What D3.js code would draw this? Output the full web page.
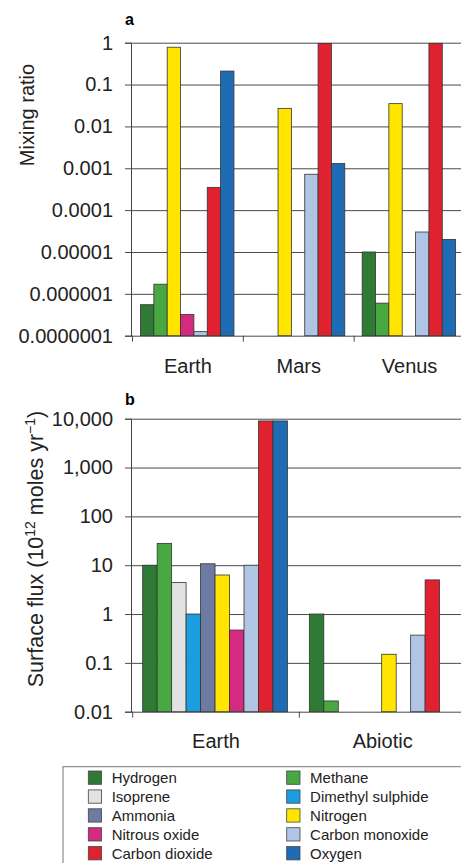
<!DOCTYPE html>
<html>
<head>
<meta charset="utf-8">
<script src="https://cdn.jsdelivr.net/npm/d3@7"></script>
<style>
  body { margin: 0; background: #fff; }
  svg { display: block; font-family: "Liberation Sans", Arial, sans-serif; }
</style>
</head>
<body>
<svg id="chart" width="461" height="863"></svg>
<script>
// gases, in the order used by panel b and the legend
const gases = ["Hydrogen", "Methane", "Isoprene", "Dimethyl sulphide", "Ammonia",
  "Nitrogen", "Nitrous oxide", "Carbon monoxide", "Carbon dioxide", "Oxygen"];
const gasColors = ["#2f7b35", "#48a942", "#e2e2e2", "#1b9ee0", "#6d7ba2",
  "#ffe500", "#d42a80", "#b0c4e4", "#df2130", "#1e6db4"];

// panel a: mixing ratios
const planets = ["Earth", "Mars", "Venus"];
const gasesA = ["Hydrogen", "Methane", "Nitrogen", "Nitrous oxide", "Carbon monoxide", "Carbon dioxide", "Oxygen"];
const mixEarth = [5.5e-7, 1.7e-6, 0.78, 3.2e-7, 1.25e-7, 3.5e-4, 0.21];
const mixMars = [null, null, 0.027, null, 7.2e-4, 0.96, 1.3e-3];
const mixVenus = [1e-5, 6e-7, 0.035, null, 3e-5, 0.965, 2e-5];
const ticksA = [1, 0.1, 0.01, 0.001, 0.0001, 0.00001, 0.000001, 0.0000001];
const tickLabelsA = ["1", "0.1", "0.01", "0.001", "0.0001", "0.00001", "0.000001", "0.0000001"];

// panel b: surface fluxes (10^12 moles per year)
const sources = ["Earth", "Abiotic"];
const fluxEarth = [10, 28, 4.4, 1.0, 10.7, 6.3, 0.47, 10, 9000, 9000];
const fluxAbiotic = [1, 0.0166, null, null, null, 0.15, null, 0.37, 5, null];
const ticksB = [10000, 1000, 100, 10, 1, 0.1, 0.01];
const tickLabelsB = ["10,000", "1,000", "100", "10", "1", "0.1", "0.01"];

const colorOf = d3.scaleOrdinal(gases, gasColors);
const svg = d3.select("#chart");
const axisX = 131;
const rightEdge = 461;

function drawPanel(opts) {
  const g = svg.append("g");
  const y = d3.scaleLog().domain(opts.domain).range([opts.bottom, opts.top]);
  const x = d3.scaleBand().domain(opts.groups).range(opts.xRange);
  const inner = d3.scaleBand().domain(opts.keys).range(opts.innerRange);

  // gridlines
  g.append("g")
    .attr("transform", `translate(${axisX},0)`)
    .call(d3.axisLeft(y).tickValues(opts.ticks).tickSize(-(rightEdge - axisX)).tickFormat(""))
    .call(s => s.select(".domain").remove())
    .call(s => s.selectAll(".tick line").attr("stroke", "#4a4a4a").attr("stroke-width", 1));

  // y axis with labels
  g.append("g")
    .attr("transform", `translate(${axisX},0)`)
    .call(d3.axisLeft(y).tickValues(opts.ticks).tickSize(6).tickPadding(12)
      .tickFormat((d, i) => opts.tickLabels[i]))
    .call(s => s.select(".domain").attr("stroke", "#444"))
    .call(s => s.selectAll(".tick line").attr("stroke", "#4a4a4a"))
    .call(s => s.selectAll(".tick text").attr("font-size", 20).attr("fill", "#222")
      .attr("font-family", "Liberation Sans, Arial, sans-serif"));

  // bottom ticks at group boundaries
  g.selectAll(".sep")
    .data(opts.groups)
    .enter().append("line")
    .attr("x1", d => x(d)).attr("x2", d => x(d))
    .attr("y1", opts.bottom).attr("y2", opts.bottom + 6)
    .attr("stroke", "#4a4a4a");

  // bars
  opts.groups.forEach((grp, gi) => {
    const vals = opts.values[gi];
    const data = opts.keys.map((k, i) => ({ key: k, value: vals[i] })).filter(d => d.value != null);
    g.append("g")
      .attr("transform", `translate(${x(grp)},0)`)
      .selectAll("rect")
      .data(data)
      .enter().append("rect")
      .attr("x", d => inner(d.key))
      .attr("width", inner.bandwidth())
      .attr("y", d => y(d.value))
      .attr("height", d => opts.bottom - y(d.value))
      .attr("fill", d => colorOf(d.key))
      .attr("stroke", "#333")
      .attr("stroke-width", 0.8);
  });

  // group labels
  g.selectAll(".grp")
    .data(opts.groups)
    .enter().append("text")
    .attr("x", d => x(d) + x.bandwidth() / 2)
    .attr("y", opts.labelY)
    .attr("text-anchor", "middle")
    .attr("font-size", 20)
    .attr("fill", "#222")
    .text(d => d);

  // panel letter
  g.append("text")
    .attr("x", 125).attr("y", opts.letterY)
    .attr("font-size", 16).attr("font-weight", "bold")
    .text(opts.letter);

  return g;
}

drawPanel({
  letter: "a", letterY: 25,
  domain: [1e-7, 1], top: 42.7, bottom: 335.7,
  groups: planets, xRange: [132.5, 465],
  keys: gasesA, innerRange: [8, 8 + 7 * 13.35],
  values: [mixEarth, mixMars, mixVenus],
  ticks: ticksA, tickLabels: tickLabelsA,
  labelY: 373
});

drawPanel({
  letter: "b", letterY: 405,
  domain: [0.01, 10000], top: 418.7, bottom: 711.7,
  groups: sources, xRange: [132.7, 466],
  keys: gases, innerRange: [10, 10 + 10 * 14.47],
  values: [fluxEarth, fluxAbiotic],
  ticks: ticksB, tickLabels: tickLabelsB,
  labelY: 748
});

// axis titles
svg.append("text")
  .attr("transform", "translate(34,115) rotate(-90)")
  .attr("text-anchor", "middle")
  .attr("font-size", 20).attr("fill", "#222")
  .text("Mixing ratio");

const tb = svg.append("text")
  .attr("transform", "translate(43,549) rotate(-90)")
  .attr("text-anchor", "middle")
  .attr("font-size", 21.5).attr("fill", "#222");
tb.append("tspan").text("Surface flux (10");
tb.append("tspan").attr("font-size", 14).attr("dy", -8).text("12");
tb.append("tspan").attr("dy", 8).text(" moles yr");
tb.append("tspan").attr("font-size", 14).attr("dy", -8).text("\u22121");
tb.append("tspan").attr("dy", 8).text(")");

// legend
const legend = svg.append("g");
legend.append("rect")
  .attr("x", 63).attr("y", 766.7)
  .attr("width", 420).attr("height", 120)
  .attr("fill", "none").attr("stroke", "#777").attr("stroke-width", 1);

const item = legend.selectAll(".item")
  .data(gases)
  .enter().append("g")
  .attr("transform", (d, i) => `translate(${i % 2 ? 286.7 : 88.3},${777.7 + Math.floor(i / 2) * 18.9})`);

item.append("rect")
  .attr("x", 0).attr("y", -6.7)
  .attr("width", 13.3).attr("height", 13.3)
  .attr("fill", d => colorOf(d))
  .attr("stroke", "#444").attr("stroke-width", 0.8);

item.append("text")
  .attr("x", 23.4).attr("y", 5.3)
  .attr("font-size", 15).attr("fill", "#222")
  .text(d => d);
</script>
</body>
</html>
